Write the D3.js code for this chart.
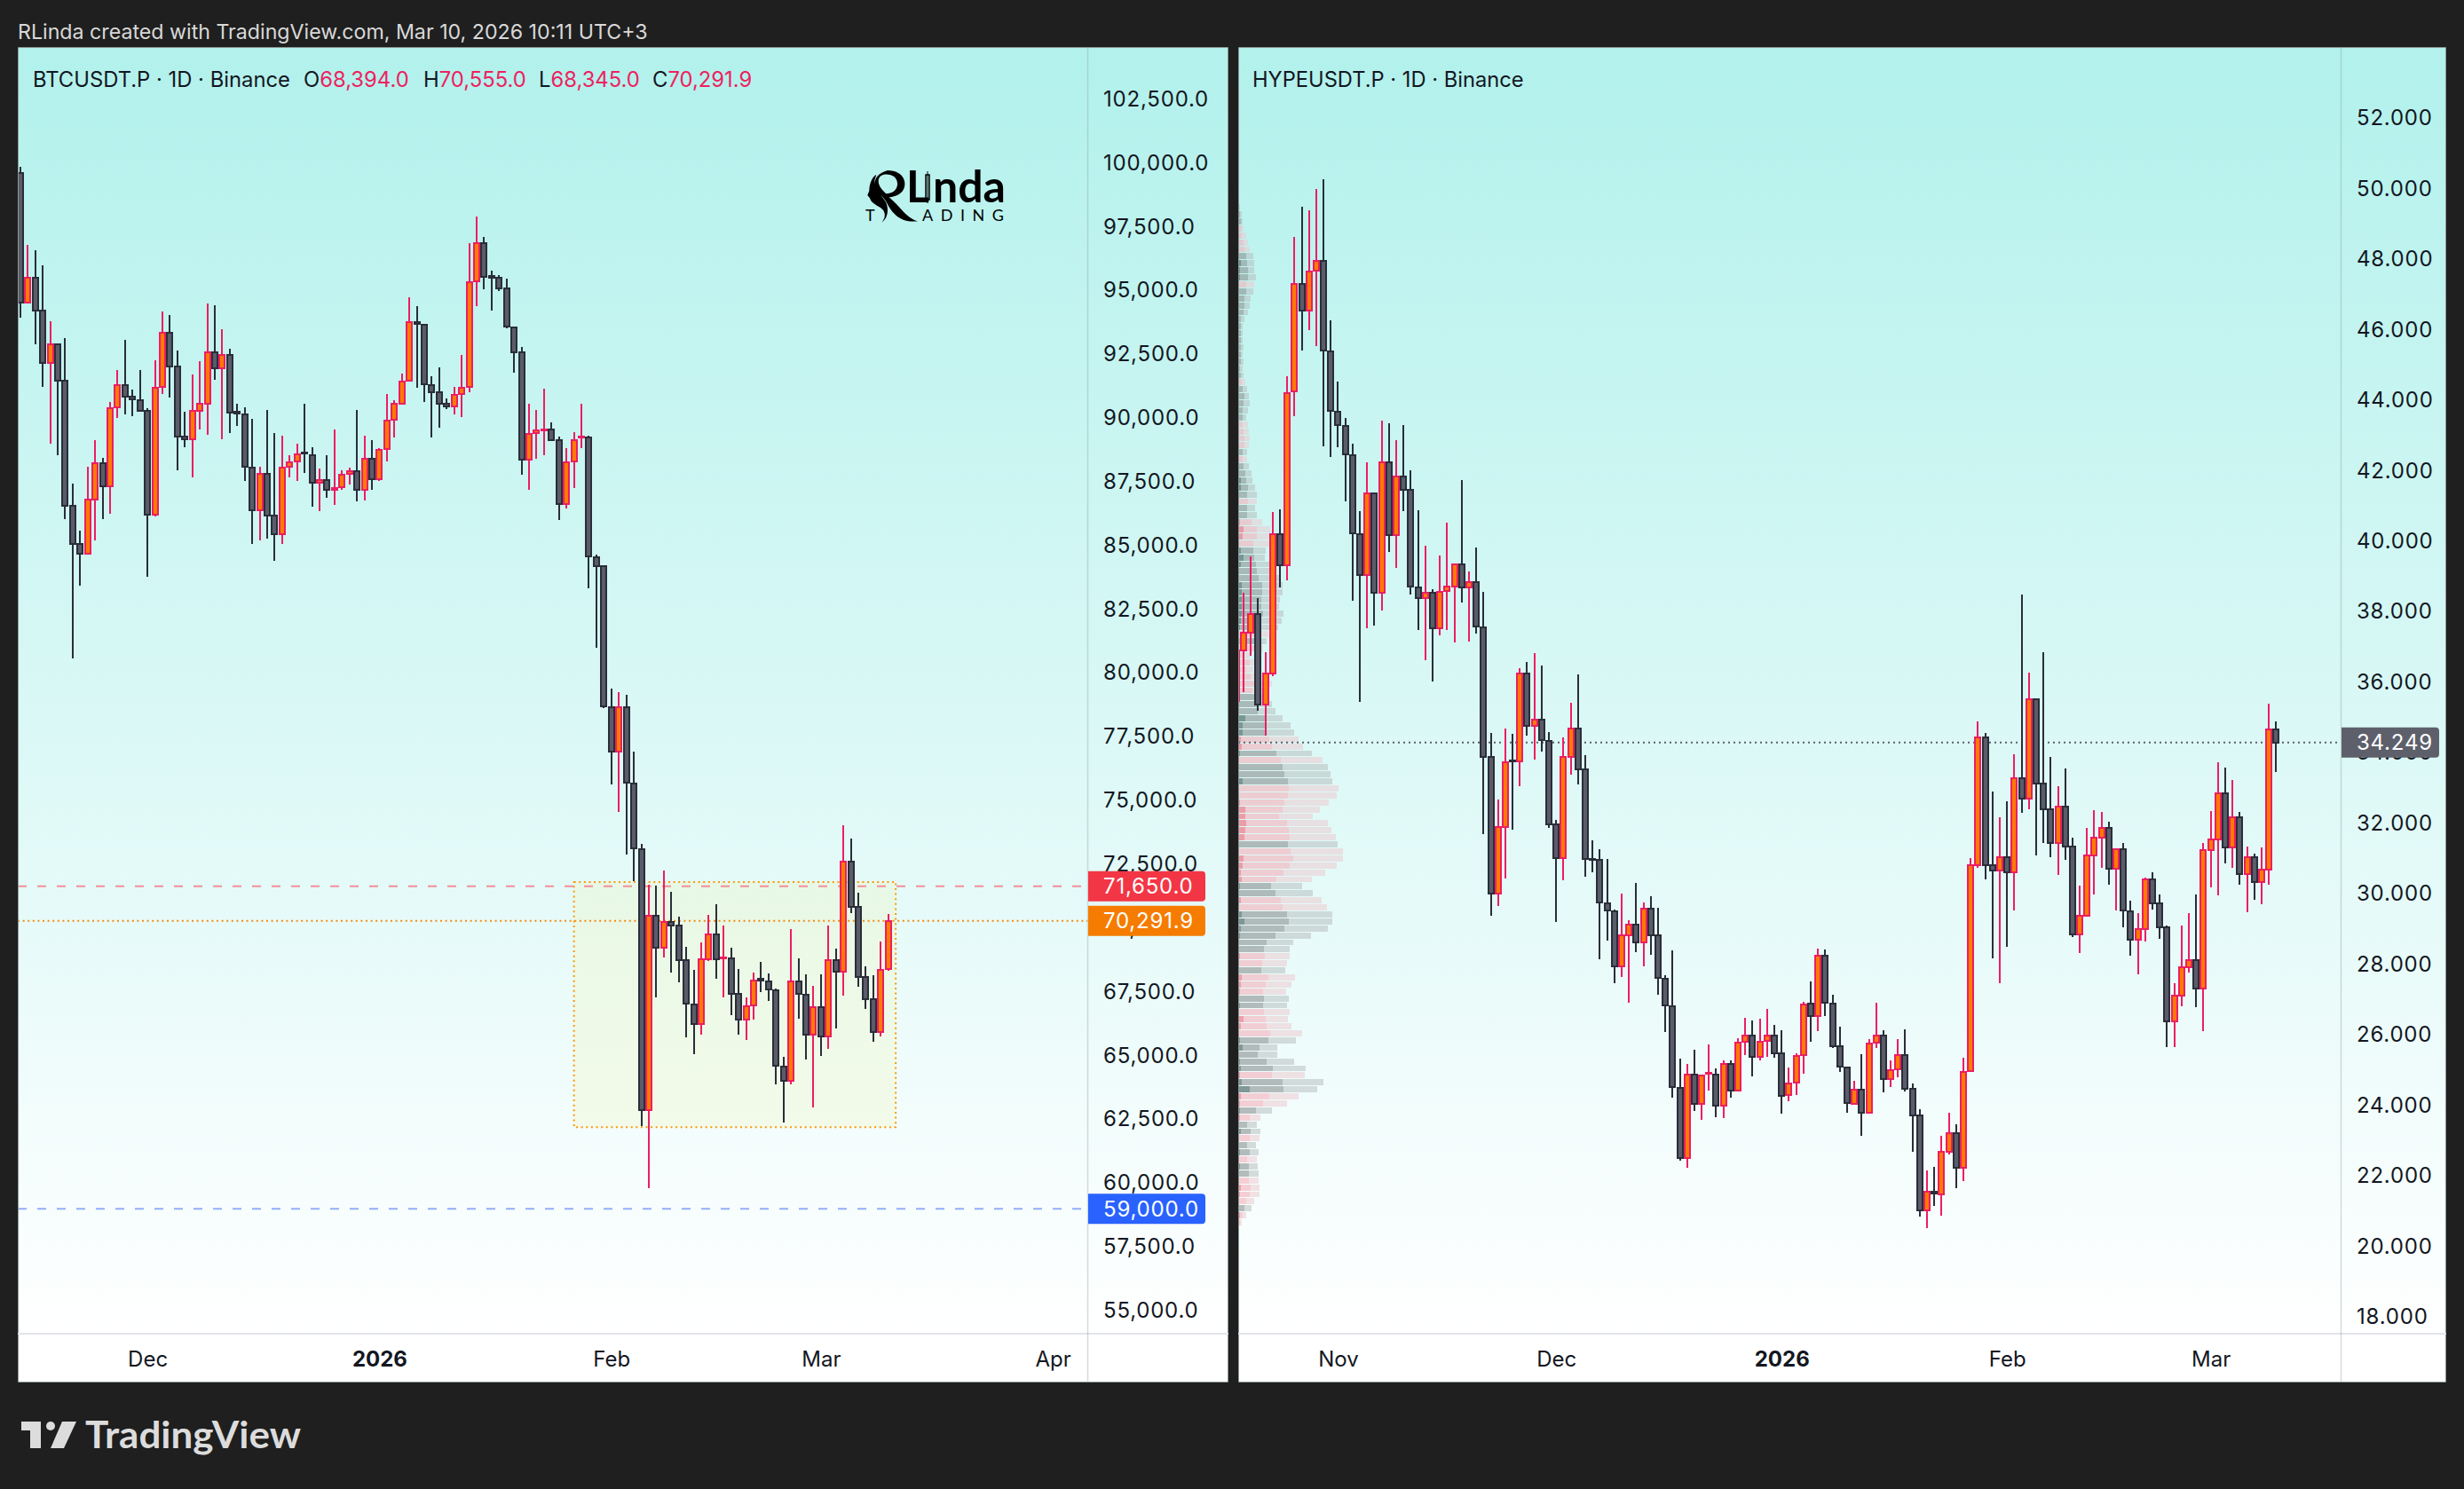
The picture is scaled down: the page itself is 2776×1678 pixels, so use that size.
<!DOCTYPE html>
<html>
<head>
<meta charset="utf-8">
<script src="https://cdn.jsdelivr.net/npm/d3@7"></script>
<style>
  html, body { margin: 0; padding: 0; background: #1f1f1f; }
  svg { display: block; font-family: Inter, "Noto Sans", sans-serif; }
</style>
</head>
<body>
<svg id="chart" width="2776" height="1678"></svg>
<script>
// BTCUSDT.P daily candles
const btcFirstDay = '2025-11-14';
const btcOpen = [99629,94533,95528,94207,92172,92887,91488,86579,85057,84684,
  86797,88226,87325,90432,91286,90836,90727,90308,86206,91224,
  93353,92017,89267,89174,90308,90587,92591,91955,92467,90246,
  90168,88071,86393,87806,86175,85445,88102,88304,88645,88568,
  87465,87589,87185,87294,87822,87915,87185,88428,87604,88785,
  89935,90587,91473,93788,93663,91318,91022,90587,90463,90945,
  91224,95372,96879,95574,95497,95077,93570,92576,88381,89422,
  89546,89546,89158,86641,88304,89236,89236,84560,84187,78672,
  76916,78672,75689,73110,62872,70500,69226,70251,70096,68760,
  67020,66243,68806,69770,68837,68822,67439,66414,66973,68014,
  67905,67579,64596,64021,67936,67408,65824,66911,65761,68760,
  68294,72628,70826,68076,67206,65932,68394];
const btcHigh = [99862,96802,96584,95994,93803,92918,93151,87449,85585,88102,
  89158,88459,90634,91908,93073,91131,91908,90401,92265,94176,
  94052,92654,90246,91721,92234,94518,94425,93508,92731,90587,
  90432,89966,88117,90339,89438,89329,88537,89018,90587,88878,
  88024,88568,89546,87946,88071,90339,89329,89158,88847,90945,
  90712,91768,94751,94394,93663,91644,91986,90774,91224,92483,
  96864,97905,97128,95807,95605,95481,93586,92809,90587,90323,
  91178,89857,89267,88816,89469,90587,89313,84653,84218,79402,
  79278,79153,76947,73296,71712,71665,72286,71432,70469,69272,
  68371,69459,70546,70935,70111,69226,68418,67284,68263,68682,
  68247,67641,64953,69987,68837,68185,67734,68185,70111,69195,
  74042,73514,71401,68527,68169,69490,70555];
const btcLow = [93943,94500,92918,91224,89018,88568,86051,80598,83441,84653,
  85227,86051,86268,90013,90137,90090,90308,83798,86160,90945,
  90805,87962,88878,87682,89578,89344,91520,89189,89438,89702,
  87527,85088,85227,85274,84420,85088,87682,87558,87869,86548,
  86362,86874,86595,87200,87418,86750,86781,87200,87527,88304,
  89251,90587,91473,91209,90634,89251,89624,90370,90168,90044,
  91022,94394,95062,94238,94984,93539,91784,87791,87200,88428,
  88537,89111,86020,86470,87263,88816,83332,81002,78650,75642,
  74570,72908,71867,62235,59827,67284,68868,68263,67890,65730,
  65077,65839,68713,68030,67284,66585,65839,65606,66430,67517,
  67160,63866,62390,63897,66461,64860,62980,65000,65264,66088,
  67377,70608,67719,66849,65544,65777,68345];
const btcClose = [94533,95528,94207,92172,92887,91488,86579,85072,84684,86797,
  88226,87325,90401,91286,90836,90743,90308,86206,91209,93353,
  92032,89267,89174,90308,90587,92591,91955,92467,90214,90199,
  88102,86393,87806,86175,85445,88071,88288,88599,88614,87465,
  87589,87185,87263,87791,87915,87185,88428,87604,88770,89919,
  90587,91442,93788,93695,91333,91038,90587,90463,90914,91193,
  95341,96879,95543,95528,95077,93586,92576,88366,89391,89515,
  89578,89158,86641,88272,89158,89267,84575,84187,78703,76916,
  78672,75704,73125,62872,70500,69226,70251,70096,68760,67035,
  66243,68791,69770,68791,68868,67439,66414,66942,67952,67967,
  67595,64611,64021,67936,67424,65824,66911,65761,68760,68294,
  72628,70826,68092,67222,65932,68371,70291.9];

// HYPEUSDT.P daily candles
const hypeFirstDay = '2025-10-18';
const hypeOpen = [35.44,36.86,37.37,37.90,35.32,36.20,40.17,39.27,44.20,47.27,46.50,47.63,47.92,45.35,43.64,43.24,42.40,40.17,38.99,41.32,
  38.49,42.20,40.13,41.79,41.42,38.66,38.35,38.50,37.49,38.54,38.68,39.31,38.65,38.81,37.52,33.83,29.96,31.85,33.73,33.71,
  36.20,34.72,34.91,34.30,31.92,30.98,33.84,34.64,33.50,30.96,30.93,29.70,29.47,27.90,28.79,29.09,28.57,29.54,28.79,27.56,
  26.78,24.46,22.46,24.83,23.99,24.85,24.83,23.95,25.14,24.38,25.76,25.94,25.33,25.79,25.94,25.43,24.26,24.61,25.39,26.85,
  26.48,28.21,26.85,25.64,25.04,24.01,24.41,23.75,25.73,25.95,24.71,24.98,25.39,24.44,23.68,20.98,21.52,21.43,22.63,23.17,
  22.18,24.93,30.78,34.40,30.76,30.61,30.99,30.58,33.25,32.67,35.47,33.08,32.35,31.39,32.43,31.31,28.82,29.34,31.06,31.54,
  31.82,30.68,31.23,29.47,28.66,28.97,30.36,29.70,29.01,26.35,27.06,27.87,28.09,27.28,31.19,31.51,32.80,31.27,32.12,30.51,
  31.01,30.29,30.65,34.63];
const hypeHigh = [36.86,38.50,39.54,38.36,36.82,40.79,40.86,44.64,48.59,49.46,49.34,49.95,50.23,46.23,44.50,43.46,42.72,40.81,42.21,41.32,
  43.38,43.31,42.83,43.26,41.97,40.84,39.83,38.60,39.55,40.48,39.32,41.70,39.10,39.78,38.52,34.52,32.63,34.65,34.49,36.36,
  36.53,36.78,36.43,34.54,32.05,34.39,35.38,36.18,33.88,31.48,31.22,30.95,29.52,29.97,29.21,30.27,29.72,29.89,29.56,27.65,
  28.36,25.29,25.13,25.54,24.82,25.69,25.01,25.23,25.23,25.87,26.43,26.37,26.41,26.69,26.24,26.10,25.03,25.44,26.89,27.47,
  28.41,28.37,27.10,26.18,25.07,24.66,25.41,25.84,26.87,26.10,25.23,25.84,26.12,24.58,23.85,22.11,22.22,23.09,23.75,23.42,
  25.32,30.97,34.85,34.53,32.87,32.13,32.58,33.93,38.46,36.24,35.51,36.81,33.83,33.02,33.51,31.55,30.18,31.83,32.32,32.28,
  32.00,31.26,31.40,29.76,29.41,30.42,30.56,29.95,29.05,27.42,29.06,29.41,29.95,31.39,32.30,33.70,33.54,33.18,32.28,31.30,
  31.10,31.27,35.34,34.85];
const hypeLow = [35.44,35.68,36.70,35.15,34.45,36.14,38.65,38.86,43.51,45.37,45.94,45.50,42.65,42.35,42.63,41.10,38.26,35.41,37.49,37.57,
  37.99,39.66,39.21,40.81,38.45,37.44,36.59,35.97,37.30,37.44,37.09,38.22,37.12,37.35,31.66,29.34,29.61,30.40,31.78,33.01,
  34.45,33.77,33.99,31.83,29.15,30.35,33.34,33.06,30.44,30.57,28.10,28.63,27.43,27.61,26.86,28.30,27.90,28.23,27.10,26.04,
  24.18,22.39,22.20,23.81,23.54,24.38,23.62,23.60,24.18,24.37,25.38,24.77,25.23,25.34,25.30,23.72,24.07,24.26,24.85,25.76,
  26.07,26.48,25.58,24.91,23.75,23.97,23.10,23.72,25.58,24.32,24.48,24.75,24.35,22.65,20.80,20.48,21.11,20.83,22.56,21.61,
  21.81,24.90,30.69,30.37,28.12,27.43,28.46,29.48,32.25,32.36,31.06,31.39,31.00,30.49,30.91,28.73,28.28,29.31,29.95,30.69,
  30.23,29.50,29.02,28.20,27.67,28.61,29.51,28.69,25.61,25.61,26.76,27.72,26.74,26.07,30.14,29.92,30.81,30.69,30.23,29.43,
  29.78,29.66,30.23,33.41];
const hypeClose = [36.86,37.37,37.90,35.32,36.21,40.17,39.27,44.17,47.27,46.50,47.60,47.92,45.37,43.67,43.25,42.42,40.18,38.99,41.32,38.49,
  42.20,40.13,41.79,41.41,38.67,38.34,38.50,37.49,38.53,38.68,39.31,38.65,38.81,37.54,33.85,29.96,31.85,33.70,33.71,36.20,
  34.72,34.91,34.31,31.92,30.98,33.83,34.64,33.50,30.94,30.94,29.71,29.49,27.90,28.78,29.09,28.57,29.54,28.79,27.57,26.79,
  24.47,22.46,24.83,23.99,24.81,24.87,23.95,25.14,24.38,25.74,25.94,25.33,25.77,25.94,25.43,24.23,24.59,25.35,26.83,26.48,
  28.21,26.87,25.64,25.05,24.03,24.40,23.75,25.72,25.95,24.71,24.96,25.39,24.44,23.68,20.98,21.52,21.45,22.63,23.17,22.18,
  24.91,30.78,34.40,30.76,30.61,30.99,30.58,33.25,32.67,35.47,33.08,32.36,31.39,32.43,31.31,28.82,29.34,31.06,31.54,31.82,
  30.68,31.23,29.48,28.66,28.97,30.36,29.70,29.01,26.35,27.06,27.87,28.09,27.28,31.19,31.51,32.80,31.27,32.12,30.51,31.00,
  30.29,30.65,34.63,34.249];

// volume profile on the HYPE pane, top row to bottom row
const vpTopPrice = 49.43, vpBottomPrice = 20.64;
const vpTotal = [4,10,13,15,23,28,33,43,46,46,51,46,43,35,33,28,18,13,13,13,15,13,15,13,15,20,25,30,33,28,23,28,30,33,30,25,25,30,38,40,48,53,53,48,53,68,91,91,89,78,76,99,108,116,126,126,119,116,129,124,114,86,80,70,33,51,43,66,96,70,
  89,96,106,127,149,159,171,184,209,240,255,262,267,285,280,257,232,212,255,265,278,283,298,298,280,247,209,181,212,237,252,267,267,255,207,156,146,146,139,133,161,151,136,144,139,146,141,151,181,164,111,111,159,192,189,242,224,171,139,96,63,53,63,60,50,58,53,55,58,58,60,60,45,37,22,10];
const vpMid = [2,5,7,9,10,15,18,23,25,28,28,23,23,18,18,15,8,7,7,8,7,7,7,5,8,10,13,18,15,13,13,13,15,18,18,13,13,15,20,23,28,25,28,25,25,38,53,53,43,43,46,51,53,58,68,68,66,66,71,66,61,49,45,45,15,33,24,36,51,40,
  46,54,56,76,79,79,89,96,108,121,126,131,141,144,141,131,126,116,139,144,146,141,149,156,146,128,108,93,106,121,126,139,144,131,106,80,73,75,68,65,85,78,70,73,70,73,78,80,90,85,60,55,80,98,96,126,128,88,70,50,32,25,35,32,25,32,25,30,30,30,35,32,22,17,12,5];
const vpDeep = [0,0,0,0,0,0,0,0,7,5,5,0,0,0,0,0,0,0,0,0,0,0,0,0,0,0,0,0,0,0,0,0,0,0,0,0,0,0,0,7,7,0,0,0,0,5,15,13,0,8,15,8,0,0,10,10,10,10,10,8,5,0,0,0,0,0,0,0,0,0,
  0,0,0,20,12,12,7,10,4,0,0,0,12,0,0,4,20,20,22,20,17,0,0,15,12,7,10,4,0,7,0,10,17,7,4,0,0,4,0,0,10,7,4,0,4,0,15,7,0,4,12,0,4,7,4,10,32,7,4,4,4,0,7,0,0,4,0,4,0,0,7,4,0,0,4,0];
const vpSide = ['gggrrrrgggg','r','ggggggggggggg','r','ggggg','rrrr','g','r','ggggg','r','gg','rrrr','gggggggggggg','r','g','rrrrrrr',
  'gggggg','rr','g','r','ggg','rrrrrrrr','g','rrrrr','gg','rr','gggggg','rr','g','rrr','gg','rrrr','ggggg','r','gg','rr','g','r','gg','r','gg','r','gg','rrrr','g','rr'].join('');

const btcTicks = [55000,57500,60000,62500,65000,67500,70000,72500,75000,77500,80000,82500,85000,87500,90000,92500,95000,97500,100000,102500];
const hypeTicks = [18,20,22,24,26,28,30,32,34,36,38,40,42,44,46,48,50,52];
const btcMonths = ['2025-12-01','2026-01-01','2026-02-01','2026-03-01','2026-04-01'];
const hypeMonths = ['2025-11-01','2025-12-01','2026-01-01','2026-02-01','2026-03-01'];
const btcLegend = [['O','68,394.0'],['H','70,555.0'],['L','68,345.0'],['C','70,291.9']];

const btcResistance = 71650, btcSupport = 59000, btcLast = 70291.9, hypeLast = 34.249;
const rangeBox = {from: '2026-01-27', to: '2026-03-11', top: 71820, bottom: 62207};

const DAY = 864e5;
const INK = '#131722', DOWN_FILL = '#5a5d69', DOWN_LINE = '#2a2e39', UP_FILL = '#ff7a00', UP_LINE = '#ec1e62';

const svg = d3.select('#chart');
const defs = svg.append('defs');

const grad = defs.append('linearGradient').attr('id', 'bg')
  .attr('gradientUnits', 'userSpaceOnUse').attr('x1', 0).attr('x2', 0).attr('y1', 54).attr('y2', 1503);
grad.append('stop').attr('offset', 0).attr('stop-color', '#b2f1ec');
grad.append('stop').attr('offset', 1).attr('stop-color', '#ffffff');

svg.append('rect').attr('width', 2776).attr('height', 1678).attr('fill', '#1f1f1f');

function toCandles(first, o, h, l, c) {
  const t0 = Date.parse(first + 'T00:00:00Z');
  return o.map((v, i) => ({date: new Date(t0 + i * DAY), open: v, high: h[i], low: l[i], close: c[i]}));
}

function drawPane(p) {
  const root = svg.append('g');
  root.append('rect').attr('x', p.left).attr('y', 54).attr('width', p.right - p.left).attr('height', 1449).attr('fill', 'url(#bg)');
  root.append('rect').attr('x', p.left).attr('y', 1503).attr('width', p.right - p.left).attr('height', 54).attr('fill', '#fff');
  root.append('clipPath').attr('id', p.id).append('rect')
    .attr('x', p.left).attr('y', 54).attr('width', p.axisX - p.left).attr('height', 1449);
  const plot = root.append('g').attr('clip-path', `url(#${p.id})`);
  root.append('path').attr('d', `M${p.left + .5} 1557.5V53.5H${p.right - .5}V1557.5H${p.left + .5}`)
    .attr('fill', 'none').attr('stroke', '#8a9694');
  root.append('line').attr('x1', p.left).attr('x2', p.right).attr('y1', 1503).attr('y2', 1503).attr('stroke', '#e2e4e8').attr('stroke-width', 2);
  root.append('line').attr('x1', p.axisX + .5).attr('x2', p.axisX + .5).attr('y1', 54).attr('y2', 1557).attr('stroke', '#8fa5a3').attr('stroke-opacity', .38).attr('stroke-width', 1.5);
  return {plot, root};
}

function drawCandles(g, data, x, y, halfBody) {
  const c = g.append('g').attr('shape-rendering', 'crispEdges').selectAll('g').data(data).join('g');
  const isUp = d => d.close >= d.open;
  c.append('rect')
    .attr('x', d => Math.round(x(d.date)) - 1).attr('width', 2)
    .attr('y', d => y(d.high)).attr('height', d => Math.max(1, y(d.low) - y(d.high)))
    .attr('fill', d => isUp(d) ? UP_LINE : DOWN_LINE);
  c.append('rect')
    .attr('x', d => Math.round(x(d.date)) - halfBody).attr('width', halfBody * 2)
    .attr('y', d => Math.round(y(Math.max(d.open, d.close))))
    .attr('height', d => Math.max(1, Math.round(y(Math.min(d.open, d.close))) - Math.round(y(Math.max(d.open, d.close)))))
    .attr('fill', d => isUp(d) ? UP_FILL : DOWN_FILL)
    .attr('stroke', d => isUp(d) ? UP_LINE : DOWN_LINE)
    .attr('stroke-width', 2);
}

function drawAxes(root, p, x, y, ticks, months, fmt, labelShift) {
  const ya = root.append('g').attr('transform', `translate(${p.axisX},0)`)
    .call(d3.axisRight(y).tickValues(ticks).tickFormat(fmt).tickSize(0).tickPadding(18));
  ya.select('.domain').remove();
  ya.selectAll('text').attr('font-family', 'Inter').attr('font-size', 24).attr('letter-spacing', .8)
    .attr('y', labelShift).attr('fill', INK);

  const xa = root.append('g').attr('transform', 'translate(0,1503)')
    .call(d3.axisBottom(x).tickValues(months.map(m => new Date(m + 'T00:00:00Z')))
      .tickFormat(d => d.getUTCMonth() === 0 ? String(d.getUTCFullYear()) : d3.utcFormat('%b')(d))
      .tickSize(0).tickPadding(20));
  xa.select('.domain').remove();
  xa.selectAll('text').attr('font-family', 'Inter').attr('font-size', 24).attr('fill', INK)
    .attr('font-weight', d => d.getUTCMonth() === 0 ? 700 : 400);
}

function priceLabel(g, x, yc, w, fill, txt) {
  g.append('path')
    .attr('d', `M${x} ${yc - 17}h${w - 4}a4 4 0 0 1 4 4v26a4 4 0 0 1 -4 4h${-(w - 4)}z`)
    .attr('fill', fill);
  g.append('text').attr('x', x + 17).attr('y', yc).attr('dy', '.36em')
    .attr('font-size', 24).attr('letter-spacing', .8).attr('fill', '#fff').text(txt);
}

function hLine(g, y, x1, x2, color, dash) {
  g.append('line').attr('x1', x1).attr('x2', x2).attr('y1', y).attr('y2', y)
    .attr('stroke', color).attr('stroke-width', 2).attr('stroke-dasharray', dash);
}

// ---- left pane ----
const paneL = {id: 'clipL', left: 20, right: 1384, axisX: 1225};
const btc = toCandles(btcFirstDay, btcOpen, btcHigh, btcLow, btcClose);
const xL = d3.scaleUtc().domain([btc[0].date, btc[btc.length - 1].date]).range([22.8, 1000.7]);
const yL = d3.scaleLinear().domain([100000, 55000]).range([184, 1477.3]);
const L = drawPane(paneL);

L.plot.append('rect')
  .attr('x', xL(new Date(rangeBox.from))).attr('width', xL(new Date(rangeBox.to)) - xL(new Date(rangeBox.from)))
  .attr('y', yL(rangeBox.top)).attr('height', yL(rangeBox.bottom) - yL(rangeBox.top))
  .attr('fill', '#f2f3b0').attr('fill-opacity', .25)
  .attr('stroke', '#ff9800').attr('stroke-width', 2).attr('stroke-dasharray', '2 3.6');

hLine(L.plot, yL(btcResistance), 20, 1225, '#f48e99', '10 12');
hLine(L.plot, yL(btcLast), 20, 1225, '#f58a10', '2 3.6');
hLine(L.plot, yL(btcSupport), 20, 1225, '#92aef8', '10 12');
drawCandles(L.plot, btc, xL, yL, 3);
drawAxes(L.root, paneL, xL, yL, btcTicks, btcMonths, d3.format(',.1f'), -0.5);
priceLabel(L.root, 1226, yL(btcResistance), 132, '#f23645', d3.format(',.1f')(btcResistance));
priceLabel(L.root, 1226, yL(btcLast), 132, '#f57c00', d3.format(',.1f')(btcLast));
priceLabel(L.root, 1226, yL(btcSupport), 132, '#2962ff', d3.format(',.1f')(btcSupport));

const legL = L.root.append('g').attr('font-size', 23.8);
legL.append('text').attr('x', 37).attr('y', 98).attr('fill', INK).text('BTCUSDT.P · 1D · Binance');
const legendX = [342, 477, 607, 735];
btcLegend.forEach((r, i) => {
  const t = legL.append('text').attr('x', legendX[i]).attr('y', 98).attr('fill', INK);
  t.append('tspan').text(r[0]);
  t.append('tspan').attr('fill', '#ee2160').text(r[1]);
});

// logo in the left pane
const logo = L.root.append('g').attr('fill', '#000');
logo.append('path').attr('fill-rule', 'evenodd').attr('transform', 'translate(900,40) scale(.3333)')
  .attr('d', 'M300 456C340 456 360 480 358 505C356 530 335 545 305 547C340 575 360 615 402 628C360 632 330 620 305 580C295 560 285 545 270 535C262 528 256 520 256 505C256 480 270 465 300 456Z' +
    'M287 470C315 466 335 480 333 505C331 525 315 535 295 535C280 520 265 505 270 485C273 476 278 472 287 470Z');
logo.append('path').attr('transform', 'translate(900,40) scale(.3333)')
  .attr('d', 'M262 470C245 480 238 505 238 525L232 540L240 550C245 570 270 575 285 590C295 605 290 620 280 632C300 620 305 590 295 565C280 540 256 520 256 490Z');
logo.append('text').attr('x', 1021).attr('y', 228).attr('font-family', 'Lato').attr('font-weight', 700).attr('font-size', 50).text('L');
logo.append('text').attr('x', 1051).attr('y', 228).attr('font-family', 'Lato').attr('font-weight', 700).attr('font-size', 50).text('nda');
logo.append('rect').attr('x', 1043).attr('y', 197).attr('width', 4).attr('height', 28).attr('fill', 'none').attr('stroke', '#000').attr('stroke-width', 1.5);
logo.append('rect').attr('x', 1044.5).attr('y', 193).attr('width', 1).attr('height', 36);
logo.append('text').attr('x', 975).attr('y', 249).attr('font-family', 'Lato').attr('font-size', 18).text('T');
logo.append('text').attr('x', 1039).attr('y', 249).attr('font-family', 'Lato').attr('font-size', 18)
  .attr('textLength', 92).attr('lengthAdjust', 'spacing').text('ADING');

// ---- right pane ----
const paneR = {id: 'clipR', left: 1395, right: 2756, axisX: 2637};
const hype = toCandles(hypeFirstDay, hypeOpen, hypeHigh, hypeLow, hypeClose);
const xR = d3.scaleUtc().domain([hype[0].date, hype[hype.length - 1].date]).range([1392.8, 2564.3]);
const yR = d3.scaleLinear().domain([52, 18]).range([131.6, 1482.4]);
const R = drawPane(paneR);

const xVol = d3.scaleLinear().domain([0, 334]).range([1395, 1527]);
const vpStep = (vpTopPrice - vpBottomPrice) / (vpTotal.length - 1);
const rowH = Math.abs(yR(0) - yR(vpStep)) - 1;
const vpPalette = {
  g: ['rgba(60,90,88,.62)', 'rgba(140,147,147,.62)', 'rgba(184,191,191,.55)'],
  r: ['rgba(242,100,120,.62)', 'rgba(243,177,187,.62)', 'rgba(236,202,207,.55)']
};
const vpRows = vpTotal.map((v, i) => ({i, total: v, mid: vpMid[i], deep: vpDeep[i], pal: vpPalette[vpSide[i]]}));
const vpBars = R.plot.append('g').attr('shape-rendering', 'crispEdges').selectAll('g').data(vpRows).join('g')
  .attr('transform', d => `translate(0,${yR(vpTopPrice - d.i * vpStep) - rowH / 2})`);
vpBars.append('rect').attr('x', xVol(0)).attr('width', d => xVol(d.deep) - xVol(0)).attr('height', rowH).attr('fill', d => d.pal[0]);
vpBars.append('rect').attr('x', d => xVol(d.deep)).attr('width', d => xVol(d.mid) - xVol(d.deep)).attr('height', rowH).attr('fill', d => d.pal[1]);
vpBars.append('rect').attr('x', d => xVol(d.mid)).attr('width', d => xVol(d.total) - xVol(d.mid)).attr('height', rowH).attr('fill', d => d.pal[2]);

hLine(R.plot, yR(hypeLast), 1395, 2637, '#5d606b', '2 4');
drawCandles(R.plot, hype, xR, yR, 3);
drawAxes(R.root, paneR, xR, yR, hypeTicks, hypeMonths, d3.format('.3f'), 1.5);
priceLabel(R.root, 2638, yR(hypeLast), 110, '#5d606b', d3.format('.3f')(hypeLast));
R.root.append('text').attr('x', 1411).attr('y', 98).attr('font-size', 23.7).attr('fill', INK).text('HYPEUSDT.P · 1D · Binance');

// ---- page header and footer ----
svg.append('text').attr('x', 20).attr('y', 44).attr('font-size', 23.2).attr('fill', '#d8d8d8')
  .text('RLinda created with TradingView.com, Mar 10, 2026 10:11 UTC+3');

const tv = svg.append('g').attr('fill', '#dcdcdc');
tv.append('path').attr('d', 'M24 1602H46V1632H34V1612H24Z');
tv.append('circle').attr('cx', 57).attr('cy', 1607).attr('r', 5);
tv.append('path').attr('d', 'M70 1602H86L72 1632H57Z');
tv.append('text').attr('x', 96).attr('y', 1632).attr('font-family', 'Lato').attr('font-weight', 700)
  .attr('font-size', 42).attr('textLength', 243).attr('lengthAdjust', 'spacingAndGlyphs').text('TradingView');
</script>
</body>
</html>
